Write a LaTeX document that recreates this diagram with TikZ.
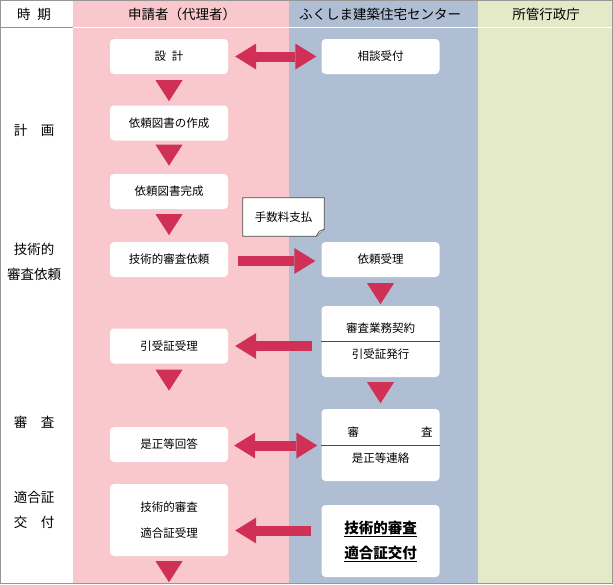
\documentclass[tikz,border=0pt]{standalone}
\usepackage{fontspec}
\setmainfont{Noto Sans CJK JP}
\usetikzlibrary{arrows.meta,calc}
\definecolor{pinkbg}{RGB}{248,200,204}
\definecolor{bluebg}{RGB}{176,190,212}
\definecolor{greenbg}{RGB}{228,234,200}
\definecolor{arrowred}{RGB}{208,48,86}
\definecolor{framegray}{RGB}{150,150,150}
\newcommand\downtri[2]{\fill[arrowred] ($(#1.south)+(-13.5,#2)$) -- ++(27,0) -- ++(-13.5,21) -- cycle;}
\begin{document}
\begin{tikzpicture}[x=1pt,y=-1pt,
  box/.style={fill=white, rounded corners=4pt, minimum width=118pt, minimum height=35pt, inner sep=0pt, align=center, font=\fontsize{11.5}{26}\selectfont},
  tallbox/.style={box, minimum height=72pt},
  hdr/.style={font=\fontsize{13.5}{15}\selectfont, inner sep=0pt},
  side/.style={font=\fontsize{13.5}{24.5}\selectfont, inner sep=0pt, align=center},
  tipR/.style={-{Triangle[length=21pt,width=26pt,line width=0pt]}},
  tipLR/.style={{Triangle[length=21pt,width=26pt,line width=0pt]}-{Triangle[length=21pt,width=26pt,line width=0pt]}},
  bigarrow/.style={draw=arrowred, fill=arrowred, line width=10pt},
  notebox/.style={minimum width=81pt, minimum height=38pt, inner sep=0pt, font=\fontsize{11.5}{13}\selectfont}
]
\useasboundingbox (0,0) rectangle (613,584);
% columns
\fill[white] (0,0) rectangle (73,584);
\fill[pinkbg] (73,0) rectangle (289,584);
\fill[bluebg] (289,0) rectangle (478,584);
\fill[greenbg] (478,0) rectangle (613,584);
\draw[framegray, line width=1pt] (0,27.5) -- (73,27.5);
\draw[white, line width=1pt] (73,27.5) -- (612,27.5);
\draw[framegray, line width=1pt] (0.5,0.5) rectangle (612.5,583);
% headers
\node[hdr] (h0) at (34,14) {時\hspace{0.5em}期};
\node[hdr] (h1) at (182,14) {申請者（代理者）};
\node[hdr] (h2) at (380,14) {ふくしま建築住宅センター};
\node[hdr] (h3) at (546,14) {所管行政庁};
% side labels
\node[side] (s1) at (34,130) {計　画};
\node[side] (s2) at (34,262) {技術的\\審査依頼};
\node[side] (s3) at (34,422) {審　査};
\node[side] (s4) at (34,510) {適合証\\交　付};
% left boxes
\node[box] (a1) at (169,56.5) {設\hspace{0.5em}計};
\node[box] (a2) at (169,123) {依頼図書の作成};
\node[box] (a3) at (169,191.5) {依頼図書完成};
\node[box] (a4) at (169,259.5) {技術的審査依頼};
\node[box] (a6) at (169,346) {引受証受理};
\node[box] (a7) at (169,444.5) {是正等回答};
\node[tallbox] (a8) at (169,520) {技術的審査\\適合証受理};
% right boxes
\node[box] (b1) at (380.5,56.5) {相談受付};
\node[box] (b2) at (380.5,259.5) {依頼受理};
\node[tallbox, minimum height=71pt] (b3) at (380.5,341.5) {審査業務契約\\引受証発行};
\draw[black!70, line width=0.8pt] (b3.west) -- (b3.east);
\node[tallbox] (b4) at (380.5,445) {\hspace*{19pt}審\hspace{62pt}査\\是正等連絡};
\draw[black!70, line width=0.8pt] (b4.west) -- (b4.east);
\node[tallbox, font=\fontsize{14.5}{25}\bfseries\selectfont] (b5) at (380.5,541) {\underline{技術的審査}\\\underline{適合証交付}};
% note
\node[notebox] (n) at (283.5,217) {手数料支払};
\filldraw[fill=white, draw=black!70, line width=0.7pt] (n.north west) -- (n.north east) -- ($(n.south east)+(0,-7)$) -- ($(n.south east)+(-8,0)$) -- (n.south west) -- cycle;
\filldraw[fill=black!15, draw=black!70, line width=0.6pt] ($(n.south east)+(-8,0)$) -- ($(n.south east)+(-5,-5)$) -- ($(n.south east)+(0,-7)$);
\node[notebox] at (n) {手数料支払};
% down triangles
\downtri{a1}{6}
\downtri{a2}{4}
\downtri{a3}{5}
\downtri{a6}{6}
\downtri{a8}{5}
\downtri{b2}{6}
\downtri{b3}{5}
% horizontal arrows
\draw[bigarrow, tipLR, shorten <=7pt, shorten >=5pt] (a1.east) -- (b1.west);
\draw[bigarrow, tipR, shorten <=10pt, shorten >=6pt] ([yshift=-1.5pt]a4.east) -- ([yshift=-1.5pt]b2.west);
\draw[bigarrow, tipR, shorten <=9pt, shorten >=7pt] (b3.west |- a6.east) -- (a6.east);
\draw[bigarrow, tipLR, shorten <=6pt, shorten >=4pt] ([yshift=-1pt]a7.east) -- ([yshift=-1pt]b4.west |- a7.east);
\coordinate (m) at ($(a8.east)!0.5!(b5.west)$);
\draw[bigarrow, tipR, shorten <=10pt, shorten >=7pt] (b5.west |- m) -- (a8.east |- m);
\end{tikzpicture}
\end{document}
